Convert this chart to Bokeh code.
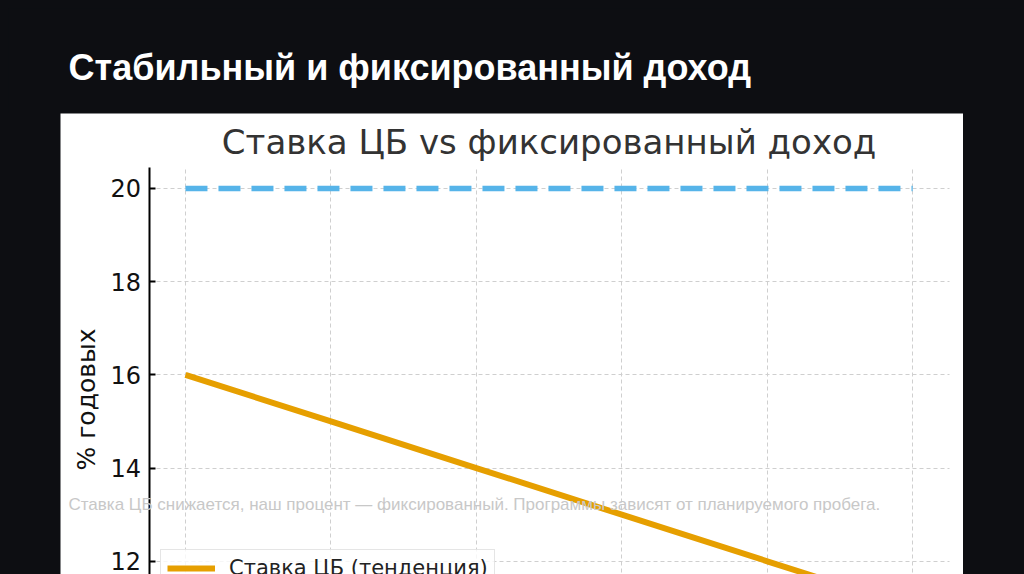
from math import pi

from bokeh.plotting import figure
from bokeh.models import Range1d, FixedTicker, Label, Spacer
from bokeh.layouts import column, row
from bokeh.embed import file_html
from bokeh.resources import INLINE

# ---- data ----
page_title = "Стабильный и фиксированный доход"
chart_title = "Ставка ЦБ vs фиксированный доход"
y_label = "% годовых"
caption = "Ставка ЦБ снижается, наш процент — фиксированный. Программы зависят от планируемого пробега."
cb_label = "Ставка ЦБ (тенденция)"
steps = [0, 1, 2, 3, 4, 5]
cb_rate = [16, 15, 14, 13, 12, 11]
fixed_rate = [20, 20, 20, 20, 20, 20]
y_ticks = [12, 14, 16, 18, 20]

BG = "#0d0e12"
BASE_FIX = 0.39  # em offset so that the wanted baseline lands where intended

# ---- geometry helpers (page pixels -> chart data units) ----
FX0, XPX, XMIN, XMAX = 148.6, 145.45, -0.25, 5.25
FY0, YPX, YMAX, YMIN = 167.0, 46.6, 20.45, 10.55


def xd(px):
    return XMIN + (px - FX0) / XPX


def yd(py):
    return YMAX - (py - FY0) / YPX


# ---- heading strip ----
head = figure(width=1008, height=105, x_range=Range1d(0, 1008), y_range=Range1d(105, 0),
              output_backend="svg", toolbar_location=None, min_border=0,
              x_axis_location=None, y_axis_location=None)
head.grid.visible = False
head.background_fill_color = BG
head.border_fill_color = BG
head.outline_line_color = None
head.add_layout(Label(x=60, y=73 - BASE_FIX * 36, text=page_title, text_font="Liberation Sans",
                      text_font_style="bold", text_font_size="36px", text_color="white",
                      text_baseline="alphabetic"))

# ---- chart panel (frame covers the whole white panel) ----
p = figure(width=903, height=461, x_range=Range1d(xd(60), xd(963)), y_range=Range1d(yd(574), yd(113)),
           output_backend="svg", toolbar_location=None, min_border=0)
p.background_fill_color = "white"
p.border_fill_color = "white"
p.outline_line_color = None

p.xaxis.visible = False
p.xgrid.ticker = FixedTicker(ticks=steps)
p.yaxis.ticker = FixedTicker(ticks=y_ticks)
p.grid.grid_line_color = "#cfcfcf"
p.grid.grid_line_dash = "4 3"
p.grid.grid_line_width = 1
try:
    p.xgrid.cross_bounds = (YMIN, YMAX)
    p.ygrid.cross_bounds = (XMIN, XMAX)
except AttributeError:
    p.grid.visible = False
    p.segment(x0=steps, y0=[YMIN] * len(steps), x1=steps, y1=[YMAX] * len(steps),
              line_color="#cfcfcf", line_dash="4 3", line_width=1)
    p.segment(x0=[XMIN] * len(y_ticks), y0=y_ticks, x1=[XMAX] * len(y_ticks), y1=y_ticks,
              line_color="#cfcfcf", line_dash="4 3", line_width=1)

ax = p.yaxis[0]
ax.fixed_location = XMIN
ax.bounds = (YMIN, YMAX)
ax.axis_line_color = "black"
ax.axis_line_width = 2
ax.major_tick_in = 6
ax.major_tick_out = 0
ax.major_tick_line_width = 2
ax.minor_tick_line_color = None
ax.major_label_standoff = 8
ax.major_label_text_font = "DejaVu Sans"
ax.major_label_text_font_size = "24px"
ax.major_label_text_color = "#111111"

p.line(steps, fixed_rate, line_color="#56B4E9", line_width=5.5, line_dash="22 11")
p.line(steps, cb_rate, line_color="#E69F00", line_width=6, legend_label=cb_label)

lg = p.legend[0]
lg.location = (100, -13)
lg.label_text_font = "DejaVu Sans"
lg.label_text_font_size = "21px"
lg.label_text_color = "#222222"
lg.glyph_width = 48
lg.glyph_height = 20
lg.label_standoff = 14
lg.padding = 6
lg.margin = 0
lg.border_line_color = "#cccccc"
lg.border_line_width = 1
lg.background_fill_alpha = 0.8

p.add_layout(Label(x=(steps[0] + steps[-1]) / 2, y=yd(155 - BASE_FIX * 34), text=chart_title,
                   text_align="center", text_baseline="alphabetic", text_font="DejaVu Sans",
                   text_font_size="34px", text_color="#333333"))
p.add_layout(Label(x=xd(85.5), y=yd(399), text=y_label, angle=pi / 2, text_align="center",
                   text_baseline="middle", text_font="DejaVu Sans", text_font_size="25px",
                   text_color="#111111"))
p.add_layout(Label(x=xd(68), y=yd(511 - BASE_FIX * 17), text=caption, text_font="Liberation Sans",
                   text_font_size="17px", text_color="#c8c8c8", text_baseline="alphabetic"))

layout = column(head, row(Spacer(width=52, height=461), p))

html = file_html(layout, INLINE)
html = html.replace("</head>", "<style>html,body{background:%s;overflow:hidden;}"
                    "body{margin:8px 8px 0 8px;}</style></head>" % BG, 1)
open("out.html", "w").write(html)
